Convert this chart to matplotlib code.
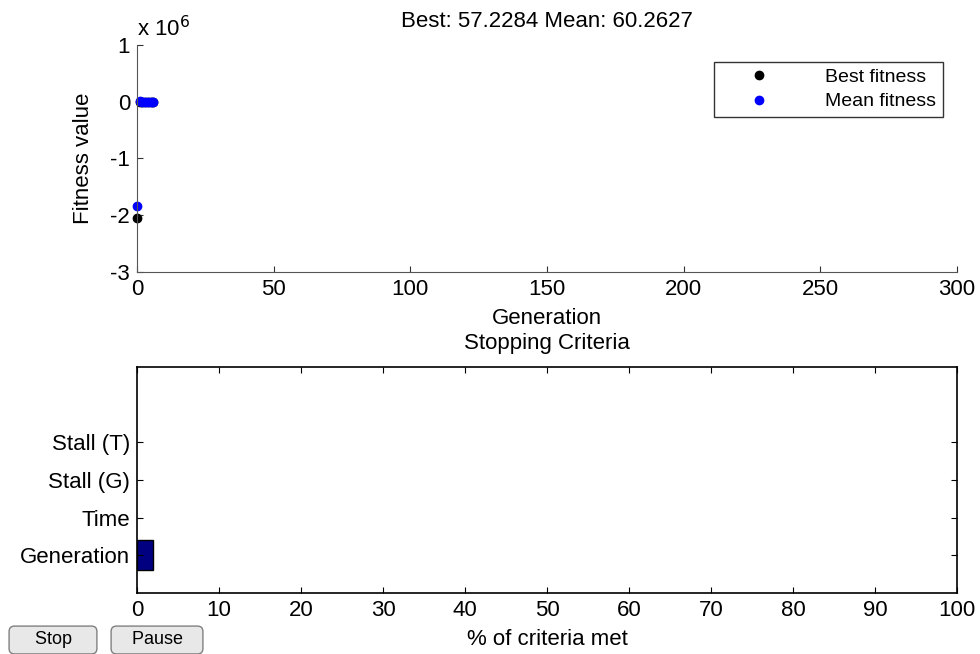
import numpy as np
import matplotlib
matplotlib.use("Agg")
import matplotlib.pyplot as plt
from matplotlib.ticker import FuncFormatter

plt.rcParams['font.family'] = ['Liberation Sans', 'DejaVu Sans']
plt.rcParams['font.size'] = 16

# GA progress (generation 0 is the initial population)
generations = [0, 1, 2, 3, 4, 5, 6]
best_fitness = [-2.05e6, 410.5, 132.7, 88.4, 66.1, 59.8, 57.2284]
mean_fitness = [-1.83e6, 9650.0, 1240.0, 310.0, 104.0, 71.5, 60.2627]

# stopping criteria (% met)
criteria = ["Generation", "Time", "Stall (G)", "Stall (T)"]
criteria_met = [2.0, 0.0, 0.0, 0.0]

fig = plt.figure(figsize=(9.8, 6.54), dpi=100)

# ---- top: fitness ----
ax1 = fig.add_axes([0.1398, 0.5841, 0.8367, 0.3471])
ax1.plot(generations, best_fitness, 'o', color='black', ms=6, label='Best fitness', clip_on=False)
ax1.plot(generations, mean_fitness, 'o', color='blue', ms=6, label='Mean fitness', clip_on=False)
ax1.set_xlim(0, 300)
ax1.set_ylim(-3e6, 1e6)
ax1.set_xticks(np.arange(0, 301, 50))
ax1.set_yticks(np.arange(-3e6, 1.1e6, 1e6))
ax1.yaxis.set_major_formatter(FuncFormatter(lambda v, p: "%d" % round(v / 1e6)))
ax1.text(0, 1.015, r"x 10$^6$", transform=ax1.transAxes, fontsize=16, va='bottom', ha='left')
for s in ['top', 'right']:
    ax1.spines[s].set_visible(False)
for s in ['left', 'bottom']:
    ax1.spines[s].set_color('#555555')
ax1.tick_params(direction='in', length=4, color='#333333', pad=5)
ax1.set_xlabel("Generation", labelpad=6)
ax1.set_ylabel("Fitness value", labelpad=12)
ax1.set_title("Best: 57.2284 Mean: 60.2627", fontsize=16, pad=13)
leg = ax1.legend(loc='upper right', bbox_to_anchor=(0.995, 0.97), frameon=True, fancybox=False,
                 fontsize=14, handletextpad=1.4, borderpad=0.35, labelspacing=0.35, handlelength=4.0)
leg.get_frame().set_edgecolor('black')
leg.get_frame().set_linewidth(1.0)

# ---- bottom: stopping criteria ----
ax2 = fig.add_axes([0.1398, 0.0933, 0.8367, 0.3455])
ypos = np.arange(1, len(criteria) + 1)
edges = ['black' if v > 0 else 'none' for v in criteria_met]
ax2.barh(ypos, criteria_met, height=0.8, color='#000080', edgecolor=edges, linewidth=1.0)
ax2.set_xlim(0, 100)
ax2.set_ylim(0, 6)
ax2.set_xticks(np.arange(0, 101, 10))
ax2.set_yticks(ypos)
ax2.set_yticklabels(criteria)
ax2.tick_params(direction='in', length=4, top=True, right=True, pad=5)
for s in ax2.spines.values():
    s.set_linewidth(1.2)
ax2.set_xlabel("% of criteria met", labelpad=6)
ax2.set_title("Stopping Criteria", fontsize=16, pad=13)

# buttons
btn = dict(boxstyle='round,pad=0.3', facecolor='#e8e8e8', edgecolor='#808080', linewidth=1.0)
fig.text(53 / 980, 1 - 640 / 654, "    Stop    ", fontsize=13, ha='center', va='center', bbox=btn)
fig.text(157 / 980, 1 - 640 / 654, "   Pause   ", fontsize=13, ha='center', va='center', bbox=btn)

fig.savefig("out.png", dpi=100)
